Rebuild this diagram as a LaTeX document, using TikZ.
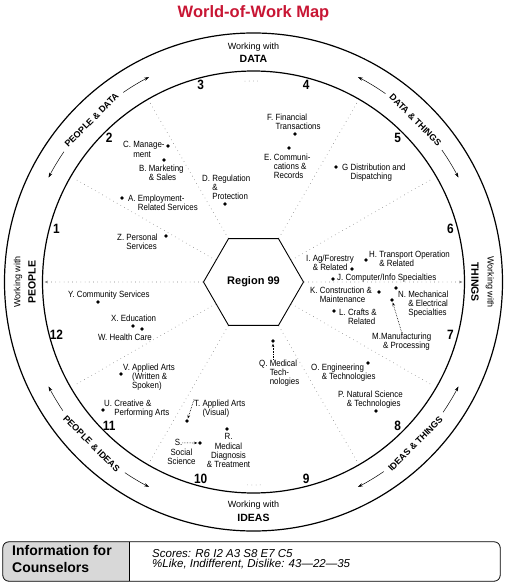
\documentclass[tikz,border=0pt]{standalone}
\usepackage{fontspec}
\setmainfont{Liberation Sans}
\newfontfamily\narrowsf[FakeStretch=0.88]{Liberation Sans}
\usetikzlibrary{shapes.geometric}
\usetikzlibrary{arrows.meta}
\definecolor{titlered}{RGB}{200,22,52}
\definecolor{boxgray}{RGB}{216,216,216}
\newcommand{\hangpre}[1]{\hphantom{#1~}}

\begin{document}
\begin{tikzpicture}[x=1pt, y=1pt,
    ring/.style={line width=1.2pt},
    spoke/.style={black!50, line width=0.6pt, dash pattern=on 0.6pt off 3.6pt},
    num/.style={font=\narrowsf\bfseries\fontsize{13.5}{14}\selectfont, inner sep=0},
    lab/.style={font=\narrowsf\fontsize{9}{9.3}\selectfont, align=left, anchor=north west, inner sep=0},
    labc/.style={lab, align=center, anchor=north},
    dot/.style={circle, fill, inner sep=0, minimum size=3.6pt},
    pointer/.style={densely dotted, line width=0.6pt, -{Stealth[length=3.5pt,width=2.6pt]}, shorten >=0.6pt},
    ringtext/.style={font=\bfseries\fontsize{9}{9}\selectfont, inner sep=0},
    ringarrow/.style={line width=0.5pt, -{Stealth[length=5pt,width=3.4pt]}},
    working/.style={font=\fontsize{9}{9}\selectfont, inner sep=0},
    field/.style={font=\bfseries\fontsize{10.5}{10.5}\selectfont, inner sep=0},
    hexa/.style={regular polygon, regular polygon sides=6, draw, line width=0.9pt,
        minimum size=100pt, inner sep=0, font=\bfseries\fontsize{11}{11}\selectfont}]
    \useasboundingbox (-253.5,-304) rectangle (253.5,282);

    \path (0,269) node [font=\bfseries\fontsize{16.5}{16.5}\selectfont, text=titlered] (title) {World-of-Work Map};

    \coordinate (c) at (0,0);
    \draw [ring] (c) circle [radius=249pt];
    \draw [ring] (c) circle [radius=211pt];
    \path (c) node [hexa] (hex) {Region 99};

    \foreach \a in {30,60,120,150,210,240,300,330}
        \draw [spoke] (hex.\a) -- (\a:207);
    \draw [spoke, -{Stealth[length=3.5pt,width=2.6pt]}] (hex.0) -- (0:209);
    \draw [spoke, -{Stealth[length=3.5pt,width=2.6pt]}] (hex.180) -- (180:209);
    \draw [spoke] (92.5:201) arc [start angle=92.5, end angle=88, radius=201pt];
    \draw [spoke] (272:203) arc [start angle=272, end angle=268, radius=203pt];

    \foreach \n in {1,...,12}
        \path ({195-30*\n}:204) node [num] (n\n) {\n};

    \path (0,235) node [working] (wdata) {Working with};
    \path (0,223) node [field] (data) {DATA};
    \path (0,-223) node [working] (wideas) {Working with};
    \path (0,-236) node [field] (ideas) {IDEAS};
    \path (-235.5,0) node [working, rotate=90] (wpeople) {Working with};
    \path (-221.5,0) node [field, rotate=90] (people) {PEOPLE};
    \path (236.5,0) node [working, rotate=-90] (wthings) {Working with};
    \path (221.5,0) node [field, rotate=-90] (things) {THINGS};

    \foreach \c/\r/\g/\t/\nm in {135/45/10.5/PEOPLE \& DATA/pd, 45/-45/10/DATA \& THINGS/dt,
        -45/45/10.5/IDEAS \& THINGS/it, -135/-45/11/PEOPLE \& IDEAS/pi}
    {
        \path (\c:229) node [ringtext, rotate=\r] (r\nm) {\t};
        \draw [ringarrow] ({\c+\g}:230) arc [start angle={\c+\g}, end angle={\c+18}, radius=230pt];
        \draw [ringarrow] ({\c-\g}:230) arc [start angle={\c-\g}, end angle={\c-18}, radius=230pt];
    }

    \path (-130.5,140.5) node [lab] (C) {C.~Manage-\\\hangpre{C.}ment};
    \path (-85.5,136) node [dot] (dC) {};
    \path (-114.5,117.5) node [lab] (B) {B.~Marketing\\\hangpre{B.}\& Sales};
    \path (-89.5,122) node [dot] (dB) {};
    \path (-51.5,107.5) node [lab] (D) {D.~Regulation\\\hangpre{D.}\&\\\hangpre{D.}Protection};
    \path (-28.5,78) node [dot] (dD) {};
    \path (-125.5,87.5) node [lab] (A) {A.~Employment-\\\hangpre{A.}Related Services};
    \path (-131.5,84) node [dot] (dA) {};
    \path (-136.5,48.5) node [lab] (Z) {Z.~Personal\\\hangpre{Z.}Services};
    \path (-87.5,46) node [dot] (dZ) {};

    \path (13.5,168.5) node [lab] (F) {F.~Financial\\\hangpre{F.}Transactions};
    \path (41.5,148) node [dot] (dF) {};
    \path (10.5,128.5) node [lab] (E) {E.~Communi-\\\hangpre{E.}cations \&\\\hangpre{E.}Records};
    \path (35.5,134) node [dot] (dE) {};
    \path (88.5,118.5) node [lab] (G) {G~Distribution and\\\hangpre{G}Dispatching};
    \path (82.5,115) node [dot] (dG) {};

    \path (52.5,27.5) node [lab] (I) {I.~Ag/Forestry\\\hangpre{I.}\& Related};
    \path (98.5,13) node [dot] (dI) {};
    \path (115.5,31.5) node [lab] (H) {H.~Transport Operation\\\hangpre{H.}\& Related};
    \path (112.5,22) node [dot] (dH) {};
    \path (83.5,8.5) node [lab] (J) {J.~Computer/Info Specialties};
    \path (79.5,3) node [dot] (dJ) {};
    \path (56.5,-4.5) node [lab] (K) {K.~Construction \&\\\hangpre{K.}Maintenance};
    \path (125.5,-10) node [dot] (dK) {};
    \path (144.5,-8.5) node [lab] (N) {N.~Mechanical\\\hangpre{N.}\& Electrical\\\hangpre{N.}Specialties};
    \path (142.5,-6) node [dot] (dN) {};
    \path (85.5,-26.5) node [lab] (L) {L.~Crafts \&\\\hangpre{L.}Related};
    \path (80.5,-29) node [dot] (dL) {};
    \path (118.5,-50.5) node [lab] (M) {M.Manufacturing\\\hangpre{M.}\& Processing};
    \path (138.5,-18) node [dot] (dM) {};
    \draw [pointer] (M.north) -- (dM);

    \path (57.5,-81.5) node [lab] (O) {O.~Engineering\\\hangpre{O.}\& Technologies};
    \path (114.5,-81) node [dot] (dO) {};
    \path (84.5,-108.5) node [lab] (P) {P.~Natural Science\\\hangpre{P.}\& Technologies};
    \path (122.5,-129) node [dot] (dP) {};
    \path (5.5,-77.5) node [lab] (Q) {Q.~Medical\\\hangpre{Q.}Tech-\\\hangpre{Q.}nologies};
    \path (19.5,-59) node [dot] (dQ) {};
    \draw [pointer] (Q.north -| dQ) -- (dQ);

    \path (-25,-151.5) node [labc] (R) {R.\\Medical\\Diagnosis\\\& Treatment};
    \path (-26.5,-147) node [dot] (dR) {};
    \path (-75,-157.5) node [labc] (Sh) {S.};
    \path (-72,-166.5) node [labc] (S) {Social\\Science};
    \path (-53.5,-161) node [dot] (dS) {};
    \draw [pointer] (Sh.east) -- (dS);
    \path (-59.5,-117.5) node [lab] (T) {T.~Applied Arts\\\hangpre{T.}(Visual)};
    \path (-66.5,-139) node [dot] (dT) {};
    \draw [pointer] (T.north west) -- (dT);

    \path (-149.5,-117.5) node [lab] (U) {U.~Creative \&\\\hangpre{U.}Performing Arts};
    \path (-150.5,-128) node [dot] (dU) {};
    \path (-130.5,-81.5) node [lab] (V) {V.~Applied Arts\\\hangpre{V.}(Written \&\\\hangpre{V.}Spoken)};
    \path (-132.5,-92) node [dot] (dV) {};
    \path (-142.5,-32.5) node [lab] (X) {X.~Education};
    \path (-120.5,-44) node [dot] (dX) {};
    \path (-155.5,-51.5) node [lab] (W) {W.~Health Care};
    \path (-111.5,-47) node [dot] (dW) {};
    \path (-185.5,-8.5) node [lab] (Y) {Y.~Community Services};
    \path (-155.5,-20) node [dot] (dY) {};

    \path (-2,-279.5) node [minimum width=497pt, minimum height=39pt, inner sep=0] (box) {};
    \fill [boxgray] ([xshift=127pt]box.north west) [rounded corners=6pt] -- (box.north west)
        -- (box.south west) [sharp corners] -- ([xshift=127pt]box.south west) -- cycle;
    \draw [line width=0.8pt, rounded corners=6pt] (box.north west) rectangle (box.south east);
    \draw [line width=0.8pt] ([xshift=127pt]box.north west) -- ([xshift=127pt]box.south west);
    \path (-241.5,-277) node [anchor=west, align=left, inner sep=0,
        font=\bfseries\fontsize{14}{16.5}\selectfont] (info) {Information for\\Counselors};
    \path (-101.5,-277.5) node [anchor=west, align=left, inner sep=0,
        font=\itshape\fontsize{11.5}{9.6}\selectfont] (scores)
        {Scores: R6 I2 A3 S8 E7 C5\\\%Like, Indifferent, Dislike: 43---22---35};
\end{tikzpicture}
\end{document}
